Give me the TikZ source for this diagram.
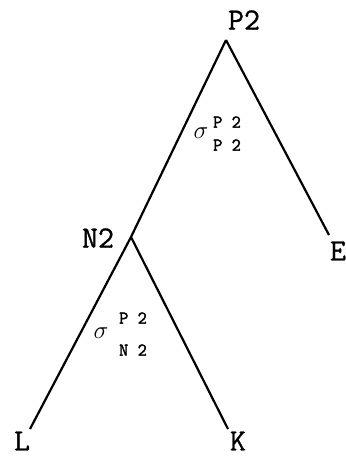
\documentclass[tikz,border=0pt]{standalone}
\usepackage{fontspec}
\newfontfamily\labfont{Latin Modern Mono}[FakeBold=1]
\newfontfamily\smfont{Latin Modern Mono}[FakeBold=2]
\begin{document}
\begin{tikzpicture}[x=1pt,y=-1pt,
  lab/.style={font=\fontsize{31}{31}\selectfont\labfont\bfseries, inner sep=0pt},
  edge/.style={line width=2.2pt},
  sig/.style={font=\fontsize{24}{24}\selectfont, inner sep=0pt},
  small/.style={font=\fontsize{18}{18}\selectfont\smfont\bfseries, inner sep=0pt}]
\useasboundingbox (0,0) rectangle (346,456);
\coordinate (top) at (226,40);
\coordinate (n2) at (131,237);
\coordinate (e) at (329,235);
\coordinate (l) at (30,429);
\coordinate (k) at (228,429);
\node[lab] (P2) at (244,20) {P2};
\node[lab] (N2) at (98,238) {N2};
\node[lab] (E) at (338,251) {E};
\node[lab] (L) at (22,441) {L};
\node[lab] (K) at (238,441) {K};
\draw[edge] (top) -- (n2) -- (l);
\draw[edge] (top) -- (e);
\draw[edge] (n2) -- (k);
\node[sig] (s1) at (201,133) {$\sigma$};
\node[small] (s1a) at (227,122) {P 2};
\node[small] (s1b) at (227,145) {P 2};
\node[sig] (s2) at (101,333) {$\sigma$};
\node[small] (s2a) at (133,318) {P 2};
\node[small] (s2b) at (133,350) {N 2};
\end{tikzpicture}
\end{document}
